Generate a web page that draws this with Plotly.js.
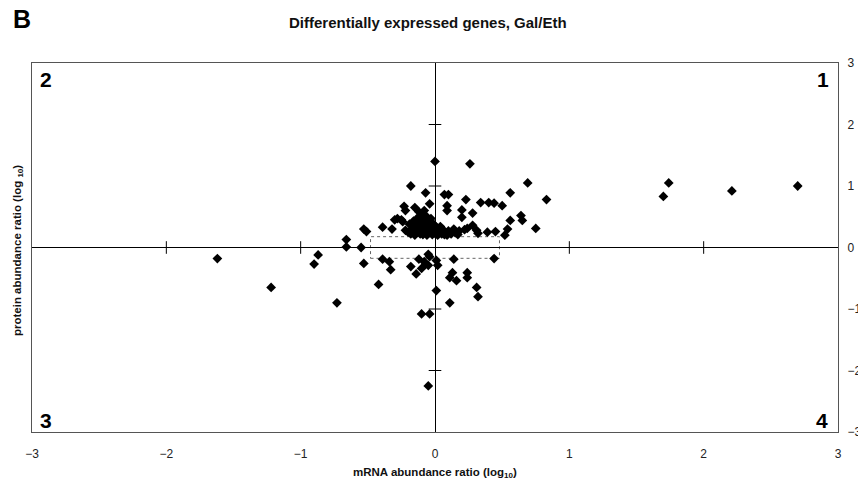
<!DOCTYPE html>
<html>
<head>
<meta charset="utf-8">
<script src="https://cdn.plot.ly/plotly-3.0.1.min.js"></script>
<style>html,body{margin:0;padding:0;background:#fff;}#chart{width:858px;height:485px;}</style>
</head>
<body>
<div id="chart"></div>
<script>
// mRNA abundance ratio (log10) per gene
const mrnaRatio = [
  -1.62,-1.22,-0.90,-0.87,-0.73,-0.66,-0.66,-0.55,-0.53,-0.53,-0.51,-0.42,-0.39,-0.32,-0.39,-0.34,-0.33,
  0.00,0.26,0.69,-0.18,-0.07,0.07,0.10,0.56,0.83,0.23,-0.04,0.34,0.40,0.44,0.50,0.09,0.09,0.20,-0.23,-0.22,-0.15,0.28,0.64,0.65,0.20,0.56,0.75,0.52,0.54,0.45,
  1.74,1.70,2.21,2.70,
  -0.30,-0.25,-0.28,-0.24,-0.12,-0.09,-0.08,-0.07,-0.10,0.28,0.24,0.22,0.31,0.32,0.39,
  -0.20,-0.18,-0.17,-0.15,-0.15,-0.13,-0.12,-0.11,-0.10,-0.09,-0.08,-0.07,-0.06,-0.06,-0.05,-0.04,-0.03,-0.02,-0.02,-0.01,0.00,0.01,0.02,0.03,0.04,0.05,0.06,0.08,0.09,0.10,0.12,0.14,0.15,0.17,0.18,-0.19,-0.16,-0.13,-0.11,-0.08,-0.05,-0.03,-0.14,-0.22,-0.09,0.00,0.07,
  -0.18,-0.14,-0.10,-0.08,-0.07,-0.05,-0.04,0.01,0.02,-0.12,0.14,0.13,0.11,0.16,0.24,0.24,0.31,0.32,0.01,0.11,-0.10,-0.04,0.44,-0.05,-0.05
];
// protein abundance ratio (log10) per gene
const proteinRatio = [
  -0.18,-0.65,-0.27,-0.12,-0.90,0.13,0.01,0.00,-0.26,0.30,0.26,-0.60,0.33,0.30,-0.19,-0.23,-0.36,
  1.40,1.36,1.05,1.00,0.89,0.86,0.86,0.89,0.78,0.78,0.71,0.73,0.73,0.72,0.68,0.68,0.60,0.61,0.67,0.60,0.65,0.56,0.52,0.44,0.49,0.44,0.31,0.20,0.30,0.26,
  1.05,0.83,0.92,1.00,
  0.45,0.45,0.47,0.42,0.58,0.55,0.60,0.52,0.50,0.36,0.31,0.29,0.28,0.23,0.25,
  0.25,0.22,0.30,0.35,0.20,0.27,0.40,0.22,0.32,0.45,0.25,0.37,0.20,0.30,0.42,0.24,0.33,0.21,0.28,0.38,0.23,0.30,0.20,0.26,0.34,0.22,0.29,0.24,0.20,0.27,0.22,0.30,0.24,0.21,0.27,0.38,0.43,0.48,0.35,0.29,0.35,0.47,0.24,0.28,0.21,0.35,0.21,
  -0.31,-0.43,-0.34,-0.23,-0.27,-0.29,-0.15,-0.21,-0.29,-0.19,-0.19,-0.41,-0.49,-0.54,-0.41,-0.49,-0.65,-0.80,-0.70,-0.90,-1.08,-1.08,-0.18,-2.25,-0.11
];
const tickVals = [-3,-2,-1,0,1,2,3];
const axisTickMarks = [-2,-1,1,2];
const boxX = [-0.48, 0.48];   // log10(3) threshold
const boxY = [-0.176, 0.176]; // log10(1.5) threshold
const quadrantLabels = ['1','2','3','4'];

const font = 'Liberation Sans, Arial, sans-serif';
const zeros = axisTickMarks.map(() => 0);

const traces = [
  {
    x: mrnaRatio, y: proteinRatio, type: 'scatter', mode: 'markers',
    marker: {symbol: 'diamond', size: 7.5, color: '#000'},
    hoverinfo: 'x+y'
  },
  {
    x: zeros, y: axisTickMarks, type: 'scatter', mode: 'markers',
    marker: {symbol: 'line-ew', size: 9, line: {color: '#000', width: 1}},
    hoverinfo: 'skip'
  },
  {
    x: axisTickMarks, y: zeros, type: 'scatter', mode: 'markers',
    marker: {symbol: 'line-ns', size: 9, line: {color: '#000', width: 1}},
    hoverinfo: 'skip'
  }
];

const qpos = {'1':[0.981,0.954], '2':[0.017,0.954], '3':[0.017,0.030], '4':[0.980,0.030]};
const annotations = [
  {text: '<b>B</b>', xref: 'paper', yref: 'paper', x: -0.026, y: 1.119, xanchor: 'left', yanchor: 'middle', showarrow: false, font: {family: font, size: 25, color: '#000'}},
  {text: '<b>Differentially expressed genes, Gal/Eth</b>', xref: 'paper', yref: 'paper', x: 0.491, y: 1.111, xanchor: 'center', yanchor: 'middle', showarrow: false, font: {family: font, size: 15, color: '#111'}},
  {text: '<b>mRNA abundance ratio (log<sub>10</sub>)</b>', xref: 'paper', yref: 'paper', x: 0.5, y: -0.111, xanchor: 'center', yanchor: 'middle', showarrow: false, font: {family: font, size: 11.5, color: '#111'}},
  {text: '<b>protein abundance ratio (log <sub>10</sub>)</b>', xref: 'paper', yref: 'paper', x: -0.0174, y: 0.493, xanchor: 'center', yanchor: 'middle', textangle: -90, showarrow: false, font: {family: font, size: 11.5, color: '#111'}}
].concat(quadrantLabels.map(q => ({
  text: '<b>' + q + '</b>', xref: 'paper', yref: 'paper', x: qpos[q][0], y: qpos[q][1], xanchor: 'center', yanchor: 'middle', showarrow: false, font: {family: font, size: 21, color: '#000'}
})));

const axisCommon = {
  range: [-3, 3], tickvals: tickVals, showgrid: false,
  zeroline: true, zerolinecolor: '#000', zerolinewidth: 1,
  showline: true, mirror: true, linecolor: '#555', linewidth: 1,
  ticks: '', tickfont: {family: font, size: 12, color: '#222'}, fixedrange: true
};

const layout = {
  width: 858, height: 485,
  margin: {l: 32, r: 20, t: 63, b: 53},
  paper_bgcolor: '#fff', plot_bgcolor: '#fff',
  showlegend: false,
  xaxis: Object.assign({}, axisCommon, {ticklabelstandoff: 11}),
  yaxis: Object.assign({}, axisCommon, {side: 'right', ticklabelstandoff: 6}),
  shapes: [{
    type: 'rect', xref: 'x', yref: 'y', x0: boxX[0], x1: boxX[1], y0: boxY[0], y1: boxY[1],
    line: {color: '#666', width: 1, dash: 'dot'}, fillcolor: 'rgba(0,0,0,0)', layer: 'below'
  }],
  annotations: annotations
};

Plotly.newPlot('chart', traces, layout, {displayModeBar: false, staticPlot: true});
</script>
</body>
</html>
